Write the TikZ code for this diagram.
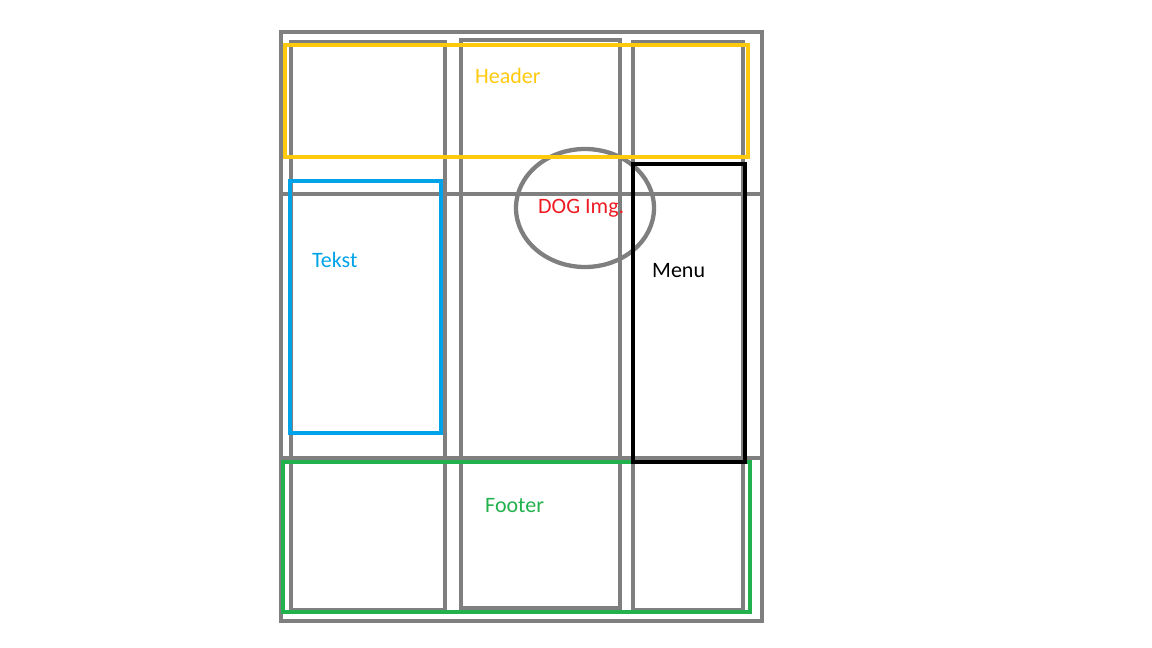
\documentclass[tikz,border=0pt]{standalone}
\usepackage{fontspec}
\setmainfont{Carlito}
\definecolor{grid}{HTML}{7F7F7F}
\definecolor{hdr}{HTML}{FFC90E}
\definecolor{txt}{HTML}{00A2E8}
\definecolor{ftr}{HTML}{22B14C}
\definecolor{dog}{HTML}{ED1C24}
\tikzset{
  gridline/.style={draw=grid, line width=4.3pt},
  zone/.style={line width=4.3pt},
  lbl/.style={inner sep=0pt, anchor=base west, font=\fontsize{22}{26}\selectfont}
}
\begin{document}
\begin{tikzpicture}[x=1pt,y=-1pt]
\useasboundingbox (0,0) rectangle (1152,648);
% outer frame
\draw[gridline] (281,32) rectangle (762,621);
% column boxes
\draw[gridline] (291,42) rectangle (445,610);
\draw[gridline] (461,40) rectangle (620,608);
\draw[gridline] (633,42) rectangle (743,610);
% row lines
\draw[gridline] (281,194) -- (762,194);
\draw[gridline] (281,458) -- (762,458);
% DOG image ellipse
\draw[gridline] (585,208) ellipse [x radius=69, y radius=59];
% zones
\draw[zone, draw=hdr] (285,45) rectangle (748,157);
\draw[zone, draw=txt] (290,181) rectangle (441,433);
\draw[zone, draw=ftr] (283,462) rectangle (750,612);
\draw[zone, draw=black] (633,164) rectangle (745,462);
% labels
\node[lbl, text=hdr] (header) at (475,83) {Header};
\node[lbl, text=dog] (dogimg) at (538,213) {DOG Img.};
\node[lbl, text=txt] (tekst) at (312,267) {Tekst};
\node[lbl, text=black] (menu) at (652,277) {Menu};
\node[lbl, text=ftr] (footer) at (485,512) {Footer};
\end{tikzpicture}
\end{document}
